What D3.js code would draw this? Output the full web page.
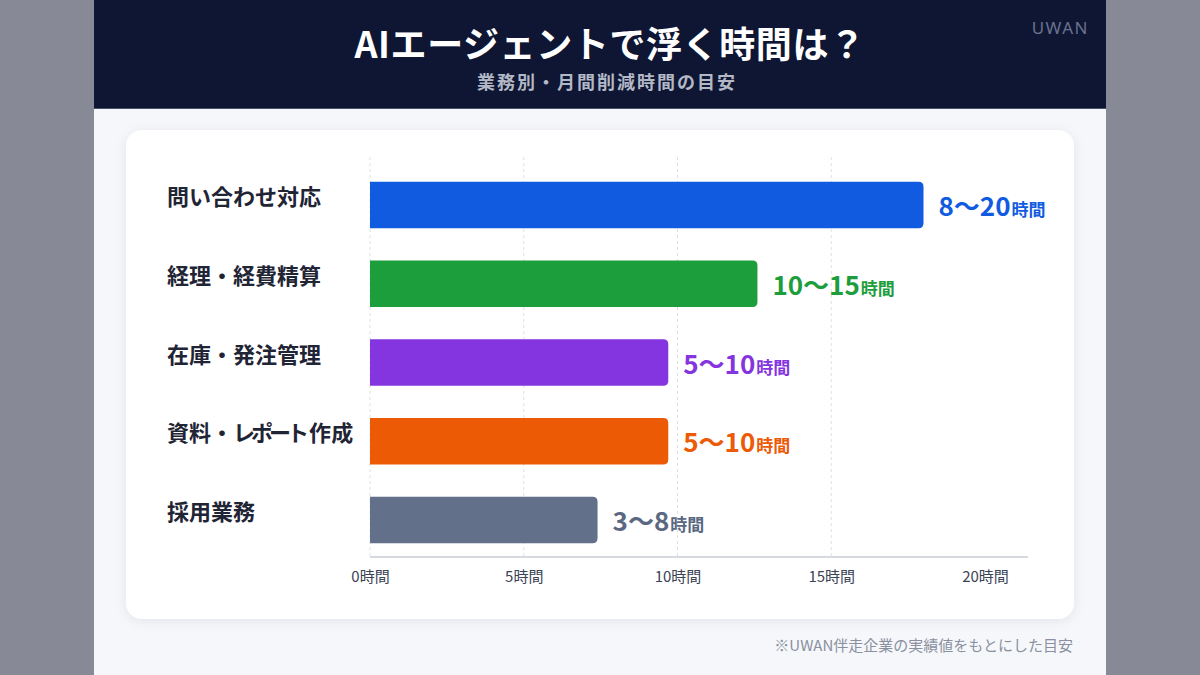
<!DOCTYPE html>
<html>
<head>
<meta charset="utf-8">
<script src="https://cdn.jsdelivr.net/npm/d3@7"></script>
<style>
    html, body { margin: 0; padding: 0; background: #878a96; }
    svg { display: block; font-family: "Noto Sans CJK JP", "Noto Sans", sans-serif; }
</style>
</head>
<body>
<div id="chart"></div>
<script>
const categories = ["問い合わせ対応", "経理・経費精算", "在庫・発注管理", "資料・レポート作成", "採用業務"]
const barValues = [18, 12.6, 9.7, 9.7, 7.4]
const rangeLabels = ["8～20", "10～15", "5～10", "5～10", "3～8"]
const tickValues = [0, 5, 10, 15, 20]
const barColours = ["#115be0", "#1b9e3b", "#8535e0", "#ec5a06", "#627089"]
const labelColours = ["#115be0", "#1b9e3b", "#8535e0", "#ec5a06", "#5b6882"]

const W = 1200
const H = 675

const svg = d3.select("#chart")
    .append("svg")
    .attr("width", W)
    .attr("height", H)

const defs = svg.append("defs")
const shadow = defs.append("filter")
    .attr("id", "shadow")
    .attr("x", "-10%").attr("y", "-10%")
    .attr("width", "120%").attr("height", "120%")
shadow.append("feDropShadow")
    .attr("dx", 0).attr("dy", 2)
    .attr("stdDeviation", 6)
    .attr("flood-color", "#1a2240")
    .attr("flood-opacity", 0.08)

// side bands + central panel
svg.append("rect").attr("width", W).attr("height", H).attr("fill", "#878a96")
svg.append("rect").attr("x", 94).attr("width", 1012).attr("height", H).attr("fill", "#f5f7fa")

// header
svg.append("rect").attr("x", 94).attr("width", 1012).attr("height", 108).attr("fill", "#0e1633")
svg.append("rect").attr("x", 94).attr("y", 108).attr("width", 1012).attr("height", 1).attr("fill", "#4a5068")

svg.append("text")
    .attr("x", 610).attr("y", 58)
    .attr("text-anchor", "middle")
    .attr("fill", "#ffffff")
    .attr("font-size", 36)
    .attr("font-weight", 700)
    .attr("letter-spacing", 0.6)
    .text("AIエージェントで浮く時間は？")

svg.append("text")
    .attr("x", 607).attr("y", 89)
    .attr("text-anchor", "middle")
    .attr("fill", "#b3b8c6")
    .attr("font-size", 18)
    .attr("font-weight", 700)
    .attr("letter-spacing", 2)
    .text("業務別・月間削減時間の目安")

svg.append("text")
    .attr("x", 1089).attr("y", 34)
    .attr("text-anchor", "end")
    .attr("fill", "#6a7190")
    .attr("font-family", "'Noto Sans', sans-serif")
    .attr("font-size", 17)
    .attr("letter-spacing", 1.5)
    .text("UWAN")

// card
svg.append("rect")
    .attr("x", 126).attr("y", 130)
    .attr("width", 948).attr("height", 489)
    .attr("rx", 16)
    .attr("fill", "#ffffff")
    .attr("filter", "url(#shadow)")

const x = d3.scaleLinear().domain([0, 20]).range([370, 985])
const y = d3.scaleBand()
    .domain(categories)
    .range([166, 559])
    .paddingInner(0.41)
    .paddingOuter(0.2)

const axisY = 557

// dashed gridlines
svg.append("g")
    .selectAll("line")
    .data(tickValues.slice(0, 4))
    .enter()
    .append("line")
    .attr("x1", (d) => x(d)).attr("x2", (d) => x(d))
    .attr("y1", 157).attr("y2", axisY)
    .attr("stroke", "#dde0e6")
    .attr("stroke-width", 1)
    .attr("stroke-dasharray", "3,3")

// bars, square left edge, rounded right edge
const r = 5
svg.append("g")
    .selectAll("path")
    .data(categories)
    .enter()
    .append("path")
    .attr("d", (d, i) => {
        const x0 = x(0), x1 = x(barValues[i])
        const y0 = y(d), y1 = y(d) + y.bandwidth()
        return "M" + x0 + "," + y0 +
            "H" + (x1 - r) +
            "Q" + x1 + "," + y0 + " " + x1 + "," + (y0 + r) +
            "V" + (y1 - r) +
            "Q" + x1 + "," + y1 + " " + (x1 - r) + "," + y1 +
            "H" + x0 + "Z"
    })
    .attr("fill", (d, i) => barColours[i])

// category labels (runs of katakana set tighter)
const isKana = (c) => /[\u30A0-\u30FA\u30FC-\u30FF]/.test(c)
const catText = svg.append("g")
    .selectAll("text")
    .data(categories)
    .enter()
    .append("text")
    .attr("x", 167)
    .attr("y", (d) => y(d) + y.bandwidth() / 2 + 0)
    .attr("fill", "#1f2535")
    .attr("font-size", 22)
    .attr("font-weight", 700)
catText.selectAll("tspan")
    .data((d) => Array.from(d).map((c, i, arr) => ({ c: c, tight: isKana(c) && isKana(arr[i + 1] || "") })))
    .enter()
    .append("tspan")
    .attr("letter-spacing", (t) => (t.tight ? -4 : null))
    .text((t) => t.c)

// value labels
const vl = svg.append("g")
    .selectAll("text")
    .data(categories)
    .enter()
    .append("text")
    .attr("x", (d, i) => x(barValues[i]) + 15)
    .attr("y", (d) => y(d) + y.bandwidth() / 2 + 11)
    .attr("fill", (d, i) => labelColours[i])
    .attr("font-weight", 700)
vl.append("tspan")
    .attr("font-size", 26)
    .text((d, i) => rangeLabels[i])
vl.append("tspan")
    .attr("font-size", 17)
    .attr("dx", 1)
    .text("時間")

// axis
const axis = svg.append("g")
    .attr("transform", "translate(0," + axisY + ")")
    .call(d3.axisBottom(x).tickValues(tickValues).tickSize(0).tickPadding(14).tickFormat((d) => d + "時間"))
axis.select(".domain").remove()
axis.selectAll("text")
    .attr("fill", "#3b4356")
    .attr("font-size", 15)
    .attr("font-family", "'Noto Sans CJK JP', sans-serif")
axis.append("line")
    .attr("x1", x(0)).attr("x2", 1028)
    .attr("y1", 0).attr("y2", 0)
    .attr("stroke", "#c9cdd6")
    .attr("stroke-width", 1.5)

// footnote
svg.append("text")
    .attr("x", 1073).attr("y", 651)
    .attr("text-anchor", "end")
    .attr("fill", "#8a90a0")
    .attr("font-size", 15)
    .text("※UWAN伴走企業の実績値をもとにした目安")
</script>
</body>
</html>
